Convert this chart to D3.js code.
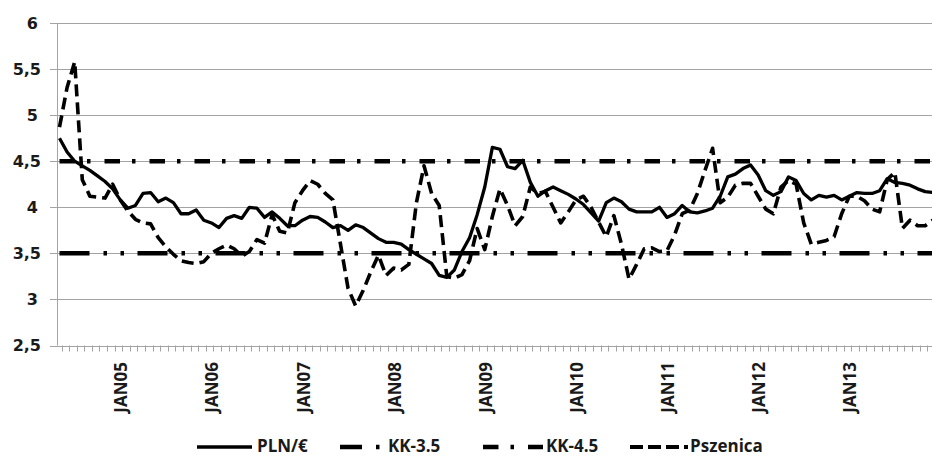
<!DOCTYPE html>
<html>
<head>
<meta charset="utf-8">
<script src="https://cdn.jsdelivr.net/npm/d3@7"></script>
<style>
  html, body { margin: 0; padding: 0; background: #fff; }
  svg { display: block; }
  text { font-family: "Open Sans", "DejaVu Sans", sans-serif; font-weight: bold; fill: #1a1a1a; }
  text.ylab { font-family: "DejaVu Sans", sans-serif; }
</style>
</head>
<body>
<svg id="chart" width="932" height="457"></svg>
<script>
// Monthly series, May 2004 – Dec 2013
const startMonth = new Date(2004, 4, 1);
const endMonth = new Date(2014, 0, 1);

// EUR/PLN exchange rate
const plnEur = [
  4.75, 4.60, 4.50, 4.45, 4.40, 4.34, 4.28, 4.20,
  4.08, 3.99, 4.02, 4.15, 4.16, 4.06, 4.10, 4.05, 3.93, 3.93, 3.97, 3.86,
  3.83, 3.78, 3.88, 3.91, 3.88, 4.00, 3.99, 3.89, 3.95, 3.88, 3.80, 3.80,
  3.86, 3.90, 3.89, 3.84, 3.78, 3.80, 3.75, 3.81, 3.78, 3.72, 3.66, 3.62,
  3.62, 3.60, 3.54, 3.49, 3.44, 3.39, 3.26, 3.24, 3.32, 3.52, 3.67, 3.92,
  4.22, 4.65, 4.63, 4.44, 4.42, 4.51, 4.27, 4.12, 4.18, 4.22, 4.18, 4.14,
  4.09, 4.03, 3.94, 3.85, 4.05, 4.10, 4.06, 3.98, 3.95, 3.95, 3.95, 4.00,
  3.89, 3.93, 4.02, 3.95, 3.94, 3.96, 3.99, 4.12, 4.33, 4.36, 4.42, 4.46,
  4.35, 4.18, 4.13, 4.17, 4.33, 4.29, 4.15, 4.08, 4.13, 4.11, 4.13, 4.08,
  4.12, 4.16, 4.15, 4.15, 4.18, 4.31, 4.27, 4.26, 4.24, 4.20, 4.17, 4.16
];

// Wheat price
const pszenica = [
  4.87, 5.30, 5.58, 4.30, 4.12, 4.11, 4.10, 4.25,
  4.08, 3.96, 3.87, 3.83, 3.82, 3.67, 3.57, 3.49, 3.42, 3.40, 3.39, 3.41,
  3.50, 3.55, 3.59, 3.55, 3.47, 3.52, 3.65, 3.61, 3.92, 3.74, 3.72, 4.05,
  4.18, 4.29, 4.25, 4.15, 4.08, 3.60, 3.12, 2.93, 3.10, 3.30, 3.48, 3.26,
  3.34, 3.32, 3.38, 4.05, 4.45, 4.15, 4.02, 3.25, 3.23, 3.27, 3.42, 3.77,
  3.54, 3.90, 4.20, 4.02, 3.80, 3.90, 4.22, 4.15, 4.17, 4.00, 3.83, 3.95,
  4.08, 4.12, 4.00, 3.84, 3.68, 3.91, 3.60, 3.22, 3.38, 3.55, 3.56, 3.52,
  3.53, 3.70, 3.93, 3.97, 4.15, 4.40, 4.64, 4.05, 4.11, 4.24, 4.26, 4.26,
  4.12, 3.98, 3.93, 4.22, 4.29, 4.25, 3.83, 3.60, 3.62, 3.64, 3.68, 3.93,
  4.12, 4.12, 4.07, 3.98, 3.95, 4.30, 4.38, 3.77, 3.86, 3.80, 3.80, 3.86
];

// Corridor bounds
const kkLow = [3.5];
const kkHigh = [4.5];

const yTicks = [2.5, 3, 3.5, 4, 4.5, 5, 5.5, 6];
const legendNames = ["PLN/€", "KK-3.5", "KK-4.5", "Pszenica"];

const months = d3.timeMonth.range(startMonth, endMonth);
const fmtTick = d3.timeFormat("%b%y");

const svg = d3.select("#chart");
svg.append("rect").attr("width", 932).attr("height", 457).attr("fill", "#fff");

const plotLeft = 57.5, plotTop = 23, plotBottom = 345.5;
const x = d3.scalePoint()
  .domain(d3.range(months.length))
  .range([59.5, 59.5 + 7.594 * (months.length - 1)]);
const y = d3.scaleLinear().domain([2.5, 6]).range([plotBottom, plotTop]);

const gridColor = "#a3a3a3";

// horizontal gridlines with outward ticks
svg.append("g").selectAll("line").data(yTicks).join("line")
  .attr("x1", 50).attr("x2", 932)
  .attr("y1", d => Math.round(y(d)) + 0.5).attr("y2", d => Math.round(y(d)) + 0.5)
  .attr("stroke", gridColor).attr("stroke-width", 1);

// y axis line
svg.append("line")
  .attr("x1", plotLeft).attr("x2", plotLeft)
  .attr("y1", plotTop).attr("y2", plotBottom)
  .attr("stroke", gridColor).attr("stroke-width", 1);

// y labels
svg.append("g").selectAll("text").data(yTicks).join("text")
  .attr("class", "ylab")
  .attr("x", d => Number.isInteger(d) ? 38 : 41)
  .attr("y", d => y(d))
  .attr("dy", "0.36em")
  .attr("text-anchor", "end")
  .attr("font-size", 16)
  .text(d => String(d).replace(".", ","));

// monthly x ticks
svg.append("g").selectAll("line").data(months.map((m, i) => i)).join("line")
  .attr("x1", i => Math.round(x(i) + 2) + 0.5).attr("x2", i => Math.round(x(i) + 2) + 0.5)
  .attr("y1", plotBottom).attr("y2", plotBottom + 6)
  .attr("stroke", gridColor).attr("stroke-width", 1);

// January labels
const janIdx = months.map((m, i) => i).filter(i => months[i].getMonth() === 0);
svg.append("g").selectAll("text").data(janIdx).join("text")
  .attr("transform", i => `translate(${x(i) + 7},362) rotate(-90)`)
  .attr("text-anchor", "end")
  .attr("font-size", 17)
  .text(i => fmtTick(months[i]).toUpperCase());

const lineGen = d3.line().x((d, i) => x(i)).y(d => y(d));
const lastI = months.length - 1;

// PLN/EUR
svg.append("path").datum(plnEur)
  .attr("d", lineGen).attr("fill", "none")
  .attr("stroke", "#000").attr("stroke-width", 3.3).attr("stroke-linejoin", "round");

// corridor lines
const kkStyles = [
  { v: kkLow[0], dash: "30,14,3.5,13.5,3.5,13.5" },
  { v: kkHigh[0], dash: "15.5,12,3.5,14" }
];
kkStyles.forEach(k => {
  svg.append("line")
    .attr("x1", x(0)).attr("x2", x(lastI))
    .attr("y1", y(k.v)).attr("y2", y(k.v))
    .attr("stroke", "#000").attr("stroke-width", 4.5)
    .attr("stroke-dasharray", k.dash);
});

// wheat price
svg.append("path").datum(pszenica)
  .attr("d", lineGen).attr("fill", "none")
  .attr("stroke", "#000").attr("stroke-width", 3.6).attr("stroke-linejoin", "round")
  .attr("stroke-dasharray", "12,6");

// legend
const ly = 447;
const legend = [
  { name: legendNames[0], x1: 197, x2: 252, tx: 257, dash: null, w: 3.3, off: 0 },
  { name: legendNames[1], x1: 340, x2: 384, tx: 388, dash: kkStyles[0].dash, w: 4.5, off: 8 },
  { name: legendNames[2], x1: 483, x2: 543, tx: 546, dash: kkStyles[1].dash, w: 4.5, off: 0 },
  { name: legendNames[3], x1: 630, x2: 688, tx: 690, dash: "13,5", w: 3.8, off: 0 }
];
const lg = svg.append("g");
legend.forEach(l => {
  lg.append("line")
    .attr("x1", l.x1).attr("x2", l.x2).attr("y1", ly).attr("y2", ly)
    .attr("stroke", "#000").attr("stroke-width", l.w)
    .attr("stroke-dasharray", l.dash)
    .attr("stroke-dashoffset", l.off);
  lg.append("text")
    .attr("x", l.tx).attr("y", ly - 1).attr("dy", "0.36em")
    .attr("font-size", 17)
    .text(l.name);
});
</script>
</body>
</html>
